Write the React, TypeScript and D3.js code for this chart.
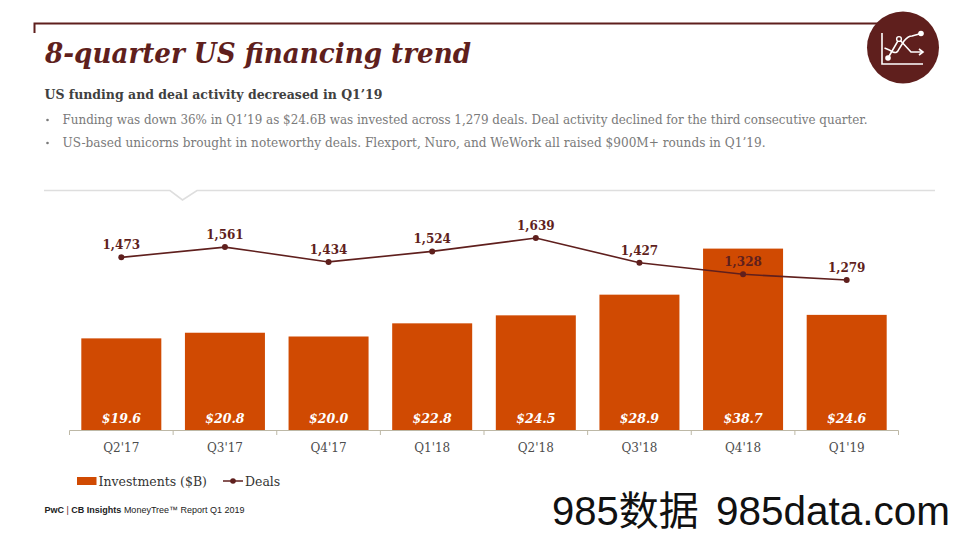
import React from "react";
import * as d3 from "d3";

const quarters = ["Q2'17", "Q3'17", "Q4'17", "Q1'18", "Q2'18", "Q3'18", "Q4'18", "Q1'19"];
const investments = [19.6, 20.8, 20.0, 22.8, 24.5, 28.9, 38.7, 24.6];
const deals = [1473, 1561, 1434, 1524, 1639, 1427, 1328, 1279];
const bullets = [
  "Funding was down 36% in Q1’19 as $24.6B was invested across 1,279 deals. Deal activity declined for the third consecutive quarter.",
  "US-based unicorns brought in noteworthy deals. Flexport, Nuro, and WeWork all raised $900M+ rounds in Q1’19.",
];

const MAROON = "#5f1f1d";
const ORANGE = "#d04a02";
const DSERIF = "'DejaVu Serif', serif";
const SANS = "'Liberation Sans', Arial, sans-serif";

const x = d3.scaleBand<string>().domain(quarters).range([69.5, 898.5]);
const barWidth = 80;
const yBar = d3.scaleLinear().domain([0, 38.7]).range([430.5, 248.6]);
const yLine = d3.scaleLinear().domain([1279, 1639]).range([280, 238]);
const cx = (q: string) => (x(q) as number) + x.bandwidth() / 2;
const linePath = d3
  .line<number>()
  .x((_, i) => cx(quarters[i]))
  .y((d) => yLine(d))
  .curve(d3.curveLinear);
const fmt = d3.format(",");

export default function App() {
  return (
    <svg
      width={960}
      height={540}
      viewBox="0 0 960 540"
      style={{ position: "absolute", left: 0, top: 0, background: "#fff" }}
    >
      {/* frame line */}
      <path d="M34.5 33 V23.5 H880" fill="none" stroke={MAROON} strokeWidth={2} />
      {/* icon */}
      <circle cx={903} cy={47.5} r={36} fill={MAROON} />
      <g fill="none" stroke="#fff" strokeWidth={1.6}>
        <path d="M882 33 V64 H923" />
        <path d="M888 58 L899 39 L911 52 H922" />
        <path d="M884.5 48 Q890 50 893 52 Q897 54 899 49 L904 41 Q908 36 912 36 L921 33.5" />
        <path d="M919 49 L923 52 L919 55" />
      </g>
      <circle cx={888} cy={58} r={2.8} fill="#fff" />
      <circle cx={899} cy={39} r={2.4} fill={MAROON} stroke="#fff" strokeWidth={1.4} />
      <circle cx={921} cy={33.5} r={2.8} fill="#fff" />

      {/* heading */}
      <text
        x={45}
        y={63}
        fontFamily={DSERIF}
        fontWeight="bold"
        fontStyle="italic"
        fontSize={27}
        fill={MAROON}
        textLength={426}
        lengthAdjust="spacingAndGlyphs"
      >
        8-quarter US financing trend
      </text>
      <text
        x={44.5}
        y={99}
        fontFamily={DSERIF}
        fontWeight="bold"
        fontSize={13}
        fill="#404040"
        textLength={338}
        lengthAdjust="spacingAndGlyphs"
      >
        US funding and deal activity decreased in Q1’19
      </text>
      {bullets.map((b, i) => (
        <g key={i} fontFamily={DSERIF} fontSize={12.5} fill="#7a7a7a">
          <circle cx={47.5} cy={120 + i * 23} r={1.3} fill="#7a7a7a" />
          <text
            x={62.5}
            y={124 + i * 23}
            textLength={i === 0 ? 805 : 703}
            lengthAdjust="spacingAndGlyphs"
          >
            {b}
          </text>
        </g>
      ))}
      {/* divider */}
      <path
        d="M44 190.5 H170 L182.5 200 L197 190.5 H935"
        fill="none"
        stroke="#dedede"
        strokeWidth={1.6}
      />

      {/* bars */}
      {investments.map((v, i) => {
        const q = quarters[i];
        return (
          <g key={q}>
            <rect
              x={cx(q) - barWidth / 2}
              y={yBar(v)}
              width={barWidth}
              height={yBar(0) - yBar(v)}
              fill={ORANGE}
            />
            <text
              x={cx(q)}
              y={423}
              textAnchor="middle"
              fontFamily={DSERIF}
              fontWeight="bold"
              fontStyle="italic"
              fontSize={12.5}
              fill="#fff"
            >
              ${v.toFixed(1)}
            </text>
          </g>
        );
      })}

      {/* axis */}
      <path d="M69.5 435 V430.5 H898.5 V435" fill="none" stroke="#bdb8a6" strokeWidth={1} />
      {quarters.slice(1).map((q) => (
        <line
          key={q}
          x1={x(q)}
          x2={x(q)}
          y1={430.5}
          y2={435}
          stroke="#bdb8a6"
          strokeWidth={1}
        />
      ))}
      {quarters.map((q) => (
        <text
          key={q}
          x={cx(q)}
          y={452}
          textAnchor="middle"
          fontFamily={DSERIF}
          fontSize={12}
          fill="#4d4d4d"
        >
          {q}
        </text>
      ))}

      {/* line */}
      <path d={linePath(deals) ?? ""} fill="none" stroke={MAROON} strokeWidth={1.6} />
      {deals.map((d, i) => {
        const q = quarters[i];
        return (
          <g key={q}>
            <circle cx={cx(q)} cy={yLine(d)} r={3} fill={MAROON} />
            <text
              x={cx(q)}
              y={yLine(d) - 8}
              textAnchor="middle"
              fontFamily={DSERIF}
              fontWeight="bold"
              fontSize={12}
              fill={MAROON}
            >
              {fmt(d)}
            </text>
          </g>
        );
      })}

      {/* legend */}
      <rect x={77} y={477} width={19.5} height={8} fill={ORANGE} />
      <text x={98.5} y={486} fontFamily={DSERIF} fontSize={12.5} fill="#333">
        Investments ($B)
      </text>
      <line x1={223} x2={243} y1={481} y2={481} stroke={MAROON} strokeWidth={1.5} />
      <circle cx={233} cy={481} r={2.8} fill={MAROON} />
      <text x={245} y={486} fontFamily={DSERIF} fontSize={12.5} fill="#333">
        Deals
      </text>

      {/* footer */}
      <text x={44.5} y={513} fontFamily={SANS} fontSize={9} fill="#222">
        <tspan fontWeight="bold">PwC </tspan>
        <tspan fill={MAROON}>| </tspan>
        <tspan fontWeight="bold">CB Insights </tspan>
        <tspan>MoneyTree™ Report Q1 2019</tspan>
      </text>

      {/* watermark */}
      <g fontFamily="'Liberation Sans', 'Noto Sans CJK SC', sans-serif" fontSize={40} fill="#111">
        <text x={552} y={525}>985数据</text>
        <text x={716} y={525} textLength={234} lengthAdjust="spacingAndGlyphs">985data.com</text>
      </g>
    </svg>
  );
}
